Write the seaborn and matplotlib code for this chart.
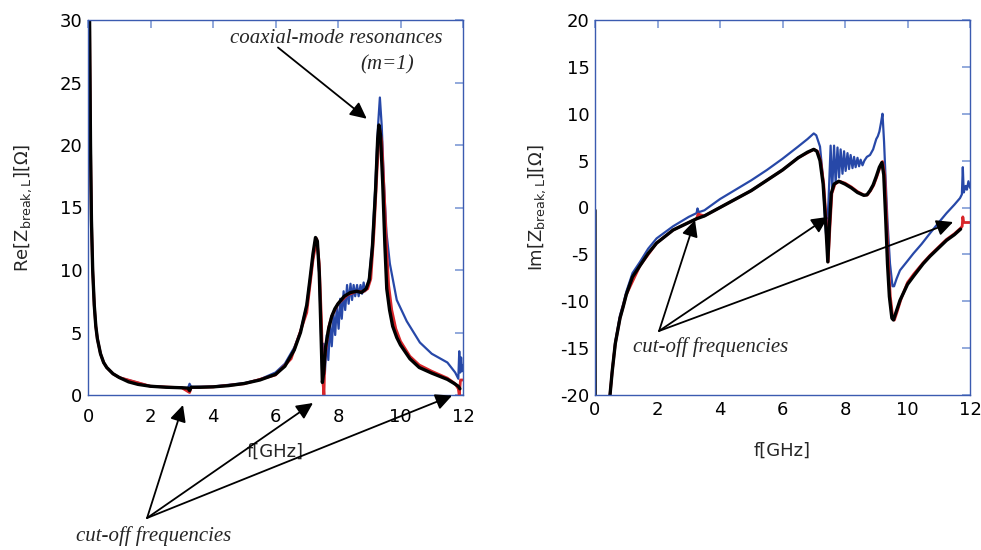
import numpy as np
import pandas as pd
import matplotlib
matplotlib.use("Agg")
import matplotlib.pyplot as plt
import seaborn as sns

# ---- Re[Z] (left panel), f in GHz, values in Ohm ----
re_black_f = [0.04, 0.05, 0.08, 0.11, 0.15, 0.2, 0.25, 0.3, 0.4, 0.5, 0.6, 0.8, 1.0, 1.3, 1.6, 2.0, 2.5,
              3.0, 3.2, 3.25, 3.3, 3.6, 4.0, 4.5, 5.0, 5.5, 6.0, 6.3, 6.6, 6.8, 7.0, 7.1, 7.2, 7.28, 7.34,
              7.4, 7.45, 7.5, 7.55, 7.6, 7.7, 7.8, 7.9, 8.0, 8.2, 8.4, 8.6, 8.75, 8.9, 9.0, 9.1, 9.2, 9.27,
              9.31, 9.36, 9.43, 9.5, 9.56, 9.65, 9.75, 9.88, 10.0, 10.3, 10.6, 11.0, 11.5, 11.7, 11.85, 11.9]
re_black_v = [40, 30, 20, 14, 10, 7.2, 5.5, 4.5, 3.3, 2.6, 2.2, 1.7, 1.4, 1.05, 0.85, 0.7, 0.62,
              0.58, 0.55, 0.35, 0.62, 0.62, 0.65, 0.75, 0.92, 1.2, 1.65, 2.3, 3.6, 5.0, 7.2, 9.2, 11.3, 12.6, 12.3,
              9.8, 5.5, 1.0, 2.0, 3.8, 5.3, 6.3, 6.9, 7.3, 7.9, 8.2, 8.3, 8.2, 8.5, 9.2, 11.8, 16.3, 20.5,
              21.6, 20.8, 17.0, 12.0, 8.5, 6.8, 5.5, 4.6, 4.0, 2.9, 2.2, 1.75, 1.25, 0.95, 0.7, 0.5]

re_red_f = [0.04, 0.05, 0.08, 0.11, 0.15, 0.2, 0.25, 0.3, 0.4, 0.5, 0.6, 0.8, 1.0, 2.0, 3.0, 3.25, 3.3,
            4.0, 5.0, 6.0, 6.5, 7.0, 7.2, 7.32, 7.4, 7.47, 7.52, 7.55, 7.58, 7.7, 7.8, 8.0, 8.3, 8.6, 8.8,
            8.95, 9.05, 9.15, 9.25, 9.33, 9.4, 9.48, 9.55, 9.62, 9.72, 9.85, 10.0, 10.3, 10.6, 11.0, 11.5,
            11.75, 11.85, 11.88, 11.92, 12.0]
re_red_v = [40, 30, 20, 14, 10, 7.2, 5.5, 4.5, 3.3, 2.6, 2.2, 1.7, 1.4, 0.7, 0.58, 0.2, 0.6,
            0.65, 0.9, 1.6, 2.9, 6.6, 10.8, 12.5, 10.5, 6.0, 1.0, 0.0, 3.0, 5.4, 6.3, 7.3, 8.0, 8.3, 8.25,
            8.5, 9.3, 13.0, 18.0, 21.3, 20.3, 16.0, 12.0, 8.8, 6.8, 5.3, 4.3, 3.1, 2.4, 1.9, 1.35,
            0.9, 0.5, 0.0, 1.2, 1.2]

re_blue_f = [0.04, 0.05, 0.08, 0.11, 0.15, 0.2, 0.25, 0.3, 0.4, 0.5, 0.6, 0.8, 1.0, 2.0, 3.0, 3.2, 3.25,
             3.3, 4.0, 5.0, 5.5, 6.0, 6.3, 6.6, 6.8, 7.0, 7.1, 7.2, 7.28, 7.34, 7.4, 7.45, 7.5,
             7.54, 7.58, 7.64, 7.69, 7.75, 7.80, 7.86, 7.91, 7.96, 8.02, 8.07, 8.12, 8.18, 8.23, 8.29,
             8.34, 8.40, 8.45, 8.50, 8.55, 8.61, 8.66, 8.72, 8.77, 8.82, 8.87, 8.93,
             9.0, 9.1, 9.2, 9.28, 9.34, 9.4, 9.47, 9.55, 9.66, 9.88, 10.2, 10.62, 11.0, 11.5, 11.75,
             11.85, 11.88, 11.91, 11.94, 11.97, 12.0]
re_blue_v = [40, 30, 20, 14, 10, 7.2, 5.5, 4.5, 3.3, 2.6, 2.2, 1.7, 1.4, 0.7, 0.58, 0.55, 0.9,
             0.65, 0.68, 0.95, 1.25, 1.8, 2.5, 3.8, 5.1, 7.2, 9.2, 11.2, 12.5, 12.2, 9.6, 5.5, 1.2,
             4.1, 1.7, 4.8, 2.8, 5.7, 3.9, 6.4, 4.8, 7.1, 5.3, 7.7, 6.1, 8.3, 6.8, 8.8,
             7.3, 8.9, 7.6, 8.8, 7.9, 8.8, 7.9, 8.8, 8.1, 9.0, 8.3, 8.7,
             9.4, 12.2, 17.0, 21.5, 23.8, 21.5, 17.0, 13.0, 10.5, 7.6, 5.9, 4.2, 3.3, 2.6, 1.8,
             1.3, 3.5, 1.8, 3.0, 1.9, 2.4]

# ---- Im[Z] (right panel) ----
im_black_f = [0.0, 0.01, 0.48, 0.55, 0.65, 0.8, 0.9, 1.0, 1.2, 1.44, 1.7, 1.97, 2.5, 3.0, 3.25, 3.5, 4.0,
              4.5, 5.0, 5.5, 6.0, 6.5, 6.8, 7.0, 7.1, 7.2, 7.3, 7.38, 7.45, 7.5, 7.56, 7.65, 7.8, 8.0, 8.2,
              8.4, 8.6, 8.7, 8.8, 8.9, 9.0, 9.1, 9.18, 9.24, 9.3, 9.36, 9.42, 9.5, 9.55, 9.62, 9.76, 10.0,
              10.2, 10.5, 10.72, 11.0, 11.25, 11.5, 11.7]
im_black_v = [-0.3, -40, -20, -17.5, -14.5, -11.8, -10.6, -9.3, -7.4, -6.2, -4.9, -3.8, -2.4, -1.6, -1.2,
              -0.9, 0.0, 0.9, 1.8, 2.9, 4.0, 5.3, 5.9, 6.2, 6.0, 5.0, 2.5, -1.5, -5.8, -2.0, 1.5, 2.5, 2.8,
              2.5, 2.1, 1.6, 1.3, 1.35, 1.8, 2.4, 3.3, 4.3, 4.8, 3.5, -1.0, -6.0, -9.5, -11.8, -12.0, -11.3,
              -9.9, -8.2, -7.3, -6.0, -5.2, -4.3, -3.5, -2.9, -2.3]

im_red_f = [0.01, 0.48, 0.55, 0.65, 0.8, 1.0, 1.44, 1.97, 2.5, 3.0, 3.25, 3.3, 3.5, 4.0, 5.0, 6.0, 6.5,
            7.0, 7.12, 7.22, 7.32, 7.4, 7.46, 7.52, 7.58, 7.68, 7.82, 8.0, 8.2, 8.4, 8.62, 8.72, 8.82,
            8.92, 9.02, 9.12, 9.2, 9.27, 9.33, 9.39, 9.45, 9.53, 9.58, 9.66, 9.8, 10.0, 10.2, 10.5, 10.72,
            11.0, 11.25, 11.5, 11.7, 11.75, 11.77, 11.8, 12.0]
im_red_v = [-40, -20, -17.5, -14.5, -11.8, -9.3, -6.2, -3.8, -2.4, -1.6, -1.2, -0.7, -0.9, 0.0, 1.8,
            4.0, 5.3, 6.2, 6.0, 5.0, 2.5, -1.5, -5.8, -2.0, 1.5, 2.5, 2.8, 2.6, 2.2, 1.7, 1.3, 1.35, 1.8,
            2.4, 3.3, 4.3, 4.9, 3.5, -1.0, -6.0, -9.5, -11.8, -12.0, -11.2, -9.7, -8.0, -7.1, -5.9, -5.1,
            -4.2, -3.4, -2.8, -2.2, -2.0, -1.0, -1.6, -1.6]

im_blue_f = [0.01, 0.48, 0.55, 0.65, 0.8, 0.91, 1.0, 1.2, 1.44, 1.7, 1.97, 2.5, 3.0, 3.25, 3.28, 3.32,
             3.5, 4.0, 4.5, 5.0, 5.5, 6.0, 6.5, 6.8, 6.9, 7.0, 7.08, 7.2, 7.3, 7.36, 7.41, 7.47,
             7.54, 7.59, 7.65, 7.70, 7.76, 7.81, 7.86, 7.92, 7.97, 8.02, 8.08, 8.13, 8.18, 8.24, 8.29,
             8.34, 8.40, 8.45, 8.50, 8.56, 8.62, 8.7, 8.8, 8.9, 9.0, 9.05, 9.1, 9.15, 9.2, 9.25, 9.3,
             9.36, 9.44, 9.52, 9.57, 9.65, 9.76, 10.0, 10.19, 10.45, 10.72, 11.0, 11.25, 11.5, 11.68,
             11.74, 11.77, 11.8, 11.86, 11.9, 11.95, 12.0]
im_blue_v = [-40, -20, -17.4, -14.3, -11.5, -10.2, -9.0, -7.0, -5.8, -4.4, -3.3, -2.0, -1.0, -0.6, -0.1,
             -0.5, -0.3, 0.9, 1.9, 2.9, 4.0, 5.2, 6.5, 7.3, 7.6, 7.9, 7.7, 6.5, 3.0, -1.5, -3.5, 0.5,
             6.6, 1.8, 6.6, 2.6, 6.4, 3.2, 6.2, 3.6, 6.0, 3.9, 5.8, 4.1, 5.6, 4.2, 5.4,
             4.3, 5.3, 4.4, 5.1, 4.5, 5.0, 5.4, 5.6, 6.2, 7.3, 7.6, 8.1, 9.0, 10.0, 7.0, 3.0,
             -1.5, -6.0, -8.4, -8.4, -7.6, -6.7, -5.7, -4.9, -3.9, -2.75, -1.6, -0.6, 0.3, 1.0,
             1.4, 4.3, 1.6, 2.3, 1.9, 2.8, 2.1]

x_ticks = [0, 2, 4, 6, 8, 10, 12]
re_ticks = [0, 5, 10, 15, 20, 25, 30]
im_ticks = [-20, -15, -10, -5, 0, 5, 10, 15, 20]

BLUE = "#2748a8"
RED = "#d8262a"
SPINE = "#3b5bb0"
TICK = "#7f9bd6"

sns.set_theme(style="white")
plt.rcParams["font.family"] = ["DejaVu Sans"]
plt.rcParams["mathtext.fontset"] = "dejavusans"
plt.rcParams["axes.unicode_minus"] = False

fig = plt.figure(figsize=(9.81, 5.5), dpi=100)
ax1 = fig.add_axes([88 / 981, 155 / 550, 375 / 981, 375 / 550])
ax2 = fig.add_axes([595 / 981, 155 / 550, 375 / 981, 375 / 550])


def draw(ax, fb, vb, fr, vr, fk, vk):
    sns.lineplot(x=fb, y=vb, ax=ax, color=BLUE, lw=1.6, sort=False, estimator=None)
    sns.lineplot(x=fr, y=vr, ax=ax, color=RED, lw=2.0, sort=False, estimator=None)
    sns.lineplot(x=fk, y=vk, ax=ax, color="black", lw=2.4, sort=False, estimator=None)


draw(ax1, re_blue_f, re_blue_v, re_red_f, re_red_v, re_black_f, re_black_v)
draw(ax2, im_blue_f, im_blue_v, im_red_f, im_red_v, im_black_f, im_black_v)

for ax, yt in [(ax1, re_ticks), (ax2, im_ticks)]:
    ax.set_xlim(0, 12)
    ax.set_ylim(yt[0], yt[-1])
    ax.set_xticks(x_ticks)
    ax.set_yticks(yt)
    ax.tick_params(direction="in", length=6, width=1.2, color=TICK, labelsize=13,
                   top=True, right=True, pad=4, labelcolor="black")
    for s in ax.spines.values():
        s.set_visible(True)
        s.set_color(SPINE)
        s.set_linewidth(1.0)
    ax.set_xlabel("f[GHz]", fontsize=13)

ax1.tick_params(axis="x", pad=9)
ax1.set_ylabel(r"Re[Z$_{\mathregular{break,L}}$][Ω]", fontsize=13, labelpad=18)
ax2.set_ylabel(r"Im[Z$_{\mathregular{break,L}}$][Ω]", fontsize=13, labelpad=9)
ax1.xaxis.set_label_coords(0.5, -0.128)
ax2.xaxis.set_label_coords(0.5, -0.124)

ann_font = dict(family="Liberation Serif", style="italic", fontsize=15)
arrow = dict(arrowstyle="-|>,head_length=0.45,head_width=0.22", color="black", lw=1.3,
             mutation_scale=22, shrinkA=0, shrinkB=0)

ax1.text(7.93, 28.5, "coaxial-mode resonances", ha="center", va="center", **ann_font)
ax1.text(9.56, 26.4, "(m=1)", ha="center", va="center", **ann_font)
ax1.annotate("", xy=(8.92, 22.1), xytext=(6.08, 27.8), arrowprops=arrow)

ax1.text(2.09, -11.3, "cut-off frequencies", ha="center", va="center", clip_on=False, **ann_font)
for tip in [(3.04, -0.8), (7.2, -0.64), (11.65, -0.05)]:
    ax1.annotate("", xy=tip, xytext=(1.89, -9.84), arrowprops=arrow, annotation_clip=False)

ax2.text(3.71, -14.85, "cut-off frequencies", ha="center", va="center", **ann_font)
for tip in [(3.2, -1.33), (7.46, -1.0), (11.46, -1.55)]:
    ax2.annotate("", xy=tip, xytext=(2.05, -13.17), arrowprops=arrow)

fig.savefig("out.png", dpi=100)
